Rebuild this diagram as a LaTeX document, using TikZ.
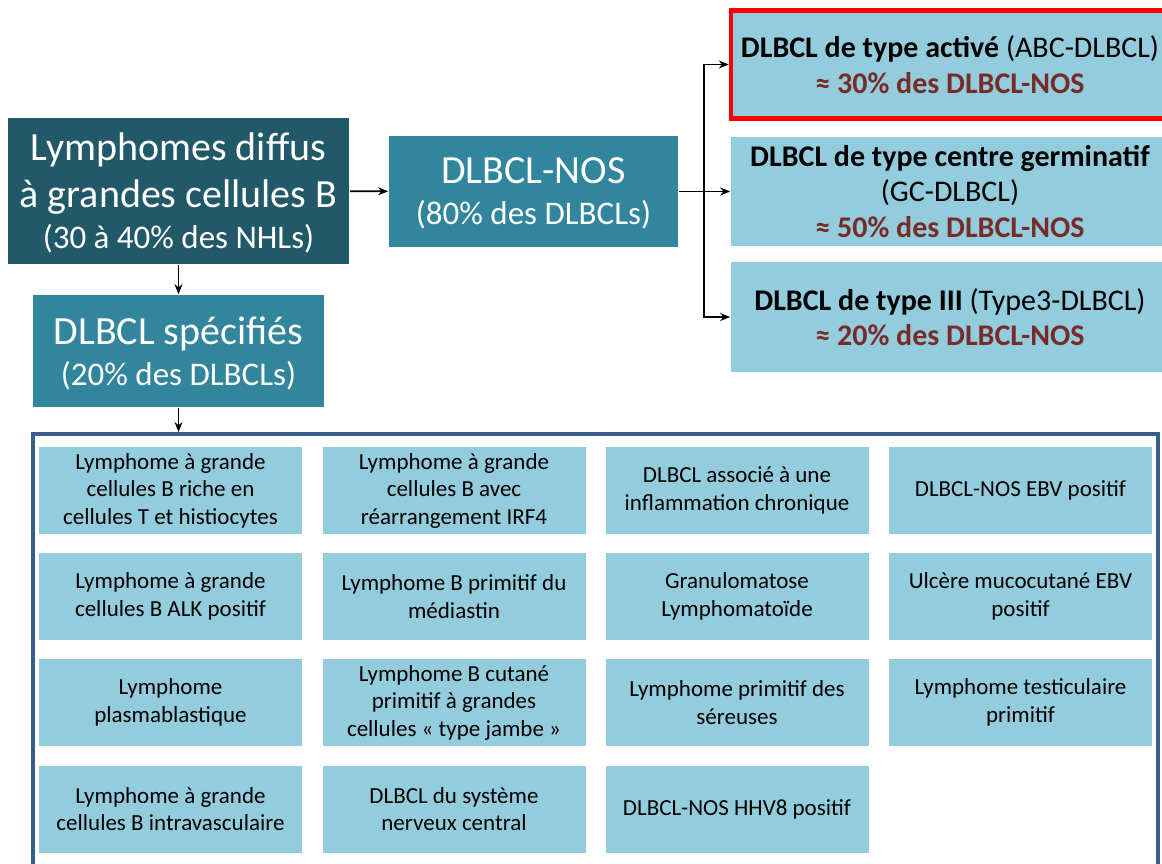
\documentclass[tikz,border=0pt]{standalone}
\usepackage{fontspec}
\setmainfont{Carlito}
\usepackage{tikz}
\usetikzlibrary{positioning}
\usetikzlibrary{arrows.meta}
\definecolor{darkteal}{HTML}{215968}
\definecolor{midteal}{HTML}{31859C}
\definecolor{lightteal}{HTML}{93CDDD}
\definecolor{frameblue}{HTML}{385D8A}
\definecolor{pctred}{HTML}{772C2A}
\newcommand{\bigtxt}{\fontsize{40}{47}\selectfont}
\newcommand{\midtxt}{\fontsize{33}{42}\selectfont}
\tikzset{
  box/.style = {align=center, inner sep=0pt, text centered},
  mainbox/.style = {box, fill=darkteal, text=white, font=\bigtxt, text depth=0pt,
    minimum width=341pt, minimum height=146pt},
  subbox/.style = {box, fill=midteal, text=white, font=\bigtxt, text depth=0pt,
    minimum height=111pt},
  typebox/.style = {box, fill=lightteal, text=black,
    font=\fontsize{30}{35.5}\selectfont, minimum width=438pt, minimum height=109pt},% sous-types DLBCL-NOS
  entitybox/.style = {box, fill=lightteal, text=black,
    font=\fontsize{23}{27.5}\selectfont, minimum width=263pt, minimum height=87pt},% entites specifiees
}

\begin{document}
\begin{tikzpicture}[->,>={Stealth[length=10pt,width=8pt]},x=1pt,y=-1pt,line width=1.7pt]
\useasboundingbox (0,0) rectangle (1162,863);
% colonne de gauche
\node [mainbox] (dlbcl) at (178.5,191)
  {Lymphomes diffus\\à grandes cellules B\\[-6pt]{\midtxt (30 à 40\% des NHLs)}};
\node [subbox, minimum width=289pt] (nos) at (533.5,191.5)
  {DLBCL-NOS\\[-6pt]{\midtxt (80\% des DLBCLs)}};
\node [subbox, minimum width=291pt, minimum height=112pt] (spec) at (178.5,351)
  {DLBCL spécifiés\\[-6pt]{\midtxt (20\% des DLBCLs)}};
% sous-types
\node [typebox, draw=red, line width=4.5pt, minimum height=108pt] (abc) at (950,64.5)
  {\textbf{DLBCL de type activé} (ABC-DLBCL)\\{\bfseries\color{pctred}≈ 30\% des DLBCL-NOS}};
\node [typebox] (gcb) at (950,191.5)
  {\textbf{DLBCL de type centre germinatif}\\(GC-DLBCL)\\{\bfseries\color{pctred}≈ 50\% des DLBCL-NOS}};
\node [typebox, minimum height=110pt] (type3) at (950,317)
  {\textbf{DLBCL de type III} (Type3-DLBCL)\\{\bfseries\color{pctred}≈ 20\% des DLBCL-NOS}};
% cadre des entites
\node [box, draw=frameblue, line width=4pt, minimum width=1125pt, minimum height=466pt] (frame) at (595.5,667) {};
\node [entitybox] (e11) at (170.5,490.5) {Lymphome à grande\\cellules B riche en\\cellules T et histiocytes};
\node [entitybox] (e12) at (454,490.5) {Lymphome à grande\\cellules B avec\\réarrangement IRF4};
\node [entitybox] (e13) at (737,490.5) {DLBCL associé à une\\inflammation chronique};
\node [entitybox] (e14) at (1020.5,490.5) {DLBCL-NOS EBV positif};
\node [entitybox] (e21) at (170.5,596.5) {Lymphome à grande\\cellules B ALK positif};
\node [entitybox] (e22) at (454,596.5) {Lymphome B primitif du\\médiastin};
\node [entitybox] (e23) at (737,596.5) {Granulomatose\\Lymphomatoïde};
\node [entitybox] (e24) at (1020.5,596.5) {Ulcère mucocutané EBV\\positif};
\node [entitybox] (e31) at (170.5,702.5) {Lymphome\\plasmablastique};
\node [entitybox] (e32) at (454,702.5) {Lymphome B cutané\\primitif à grandes\\cellules « type jambe »};
\node [entitybox] (e33) at (737,702.5) {Lymphome primitif des\\séreuses};
\node [entitybox] (e34) at (1020.5,702.5) {Lymphome testiculaire\\primitif};
\node [entitybox] (e41) at (170.5,809) {Lymphome à grande\\cellules B intravasculaire};
\node [entitybox] (e42) at (454,809) {DLBCL du système\\nerveux central};
\node [entitybox] (e43) at (737,809) {DLBCL-NOS HHV8 positif};
% fleches
\coordinate (split) at (704,191.5);
\draw (dlbcl) -- (nos);
\draw (dlbcl) -- (spec);
\draw (spec.south) -- (spec.south |- frame.north);
\draw [-] (nos.east) -- (split);
\draw (split) |- (abc.west);
\draw (split) -- (gcb.west);
\draw (split) |- (type3.west);
\end{tikzpicture}
\end{document}
